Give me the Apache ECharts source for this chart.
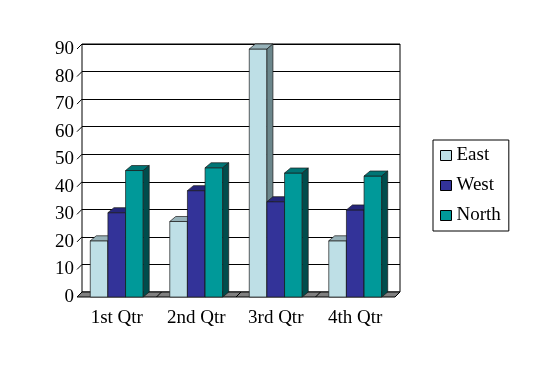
<!DOCTYPE html>
<html>
<head>
<meta charset="utf-8">
<script src="https://cdn.jsdelivr.net/npm/echarts@6/dist/echarts.min.js"></script>
<style>html,body{margin:0;padding:0;background:#fff;}#c{width:541px;height:372px;}</style>
</head>
<body>
<div id="c"></div>
<script>
var categories = ['1st Qtr', '2nd Qtr', '3rd Qtr', '4th Qtr'];
var seriesNames = ['East', 'West', 'North'];
var east = [20.4, 27.4, 90, 20.4];
var west = [30.6, 38.6, 34.6, 31.6];
var north = [45.9, 46.9, 45, 43.9];
var yTicks = [0, 10, 20, 30, 40, 50, 60, 70, 80, 90];

var FONT = 'Liberation Serif';
var WDX = 5, WDY = 5;   // wall depth
var BDX = 6, BDY = 5;   // bar depth
var faces = [
  {front: '#BEDFE6', top: '#97B2B9', side: '#6C878C'},
  {front: '#333399', top: '#26267A', side: '#1A1A55'},
  {front: '#009999', top: '#007575', side: '#004C4C'}
];

function barRender(si) {
  return function (params, api) {
    var ci = api.value(0), v = api.value(1);
    var base = api.coord([ci, 0]);
    var top = api.coord([ci, v]);
    var band = api.size([1, 0])[0];
    var w = band * 0.222;
    var x0 = base[0] - 1.5 * w + si * w;
    var f = faces[si];
    var st = {stroke: '#1a1a1a', lineWidth: 0.7};
    return {
      type: 'group',
      children: [
        {type: 'rect', shape: {x: x0, y: top[1], width: w, height: base[1] - top[1]},
          style: Object.assign({fill: f.front}, st)},
        {type: 'polygon', shape: {points: [[x0, top[1]], [x0 + w, top[1]], [x0 + w + BDX, top[1] - BDY], [x0 + BDX, top[1] - BDY]]},
          style: Object.assign({fill: f.top}, st)},
        {type: 'polygon', shape: {points: [[x0 + w, top[1]], [x0 + w + BDX, top[1] - BDY], [x0 + w + BDX, base[1] - BDY], [x0 + w, base[1]]]},
          style: Object.assign({fill: f.side}, st)}
      ]
    };
  };
}

function floorRender(params, api) {
  var cs = params.coordSys;
  var yb = cs.y + cs.height;
  var x1 = cs.x, x2 = cs.x + cs.width;
  var band = cs.width / categories.length;
  var children = [{
    type: 'polygon',
    shape: {points: [[x1, yb], [x2, yb], [x2 + WDX, yb - WDY], [x1 + WDX, yb - WDY]]},
    style: {fill: '#808080', stroke: '#000', lineWidth: 1}
  }];
  for (var k = 1; k < categories.length; k++) {
    var xx = x1 + k * band;
    children.push({type: 'line', shape: {x1: xx, y1: yb, x2: xx + WDX, y2: yb - WDY},
      style: {stroke: '#000', lineWidth: 1}});
  }
  return {type: 'group', children: children};
}

function stubRender(params, api) {
  var cs = params.coordSys;
  var p = api.coord([0, api.value(0)]);
  return {type: 'line', shape: {x1: cs.x, y1: p[1], x2: cs.x + WDX, y2: p[1] - WDY},
    style: {stroke: '#000', lineWidth: 1}};
}

var chart = echarts.init(document.getElementById('c'), null, {renderer: 'canvas'});
var dataOf = [east, west, north];
var series = [
  {type: 'custom', name: '_floor', xAxisIndex: 0, yAxisIndex: 0, z: 1, silent: true,
    renderItem: floorRender, data: [[0, 0]], encode: {x: 0, y: 1}},
  {type: 'custom', name: '_stubs', xAxisIndex: 0, yAxisIndex: 0, z: 1, silent: true,
    renderItem: stubRender, data: yTicks.map(function (t) { return [t]; }), encode: {y: 0}}
];
seriesNames.forEach(function (n, si) {
  series.push({
    type: 'custom', name: n, xAxisIndex: 0, yAxisIndex: 0, z: 3,
    itemStyle: {color: faces[si].front, borderColor: '#000', borderWidth: 1},
    renderItem: barRender(si),
    encode: {x: 0, y: 1},
    data: dataOf[si].map(function (v, i) { return [i, v]; })
  });
});

chart.setOption({
  animation: false,
  backgroundColor: '#fff',
  grid: [
    {left: 77, right: 146, top: 49, bottom: 75, show: false},
    {left: 82, right: 141, top: 44, bottom: 80, show: true, backgroundColor: '#fff', borderColor: '#000', borderWidth: 1, z: 0}
  ],
  xAxis: [
    {type: 'category', gridIndex: 0, data: categories, boundaryGap: true,
      axisLine: {show: false}, axisTick: {show: false}, splitLine: {show: false},
      axisLabel: {fontFamily: FONT, fontSize: 19, color: '#000', margin: 12}},
    {type: 'category', gridIndex: 1, data: categories, show: false}
  ],
  yAxis: [
    {type: 'value', gridIndex: 0, min: 0, max: 90, interval: 10,
      axisLine: {show: false}, axisTick: {show: false}, splitLine: {show: false},
      axisLabel: {fontFamily: FONT, fontSize: 19, color: '#000', margin: 3}},
    {type: 'value', gridIndex: 1, min: 0, max: 90, interval: 10,
      axisLine: {show: false}, axisTick: {show: false}, axisLabel: {show: false},
      splitLine: {show: true, lineStyle: {color: '#000', width: 1}}}
  ],
  legend: {
    orient: 'vertical', left: 433, top: 140,
    data: seriesNames,
    padding: [6, 8, 6, 7], itemGap: 11,
    itemWidth: 11, itemHeight: 10,
    borderColor: '#000', borderWidth: 1, borderRadius: 0,
    backgroundColor: '#fff',
    icon: 'rect',
    itemStyle: {borderColor: '#000', borderWidth: 1},
    textStyle: {fontFamily: FONT, fontSize: 19, color: '#000', padding: [0, 0, 0, 0]}
  },
  series: series
});
</script>
</body>
</html>
